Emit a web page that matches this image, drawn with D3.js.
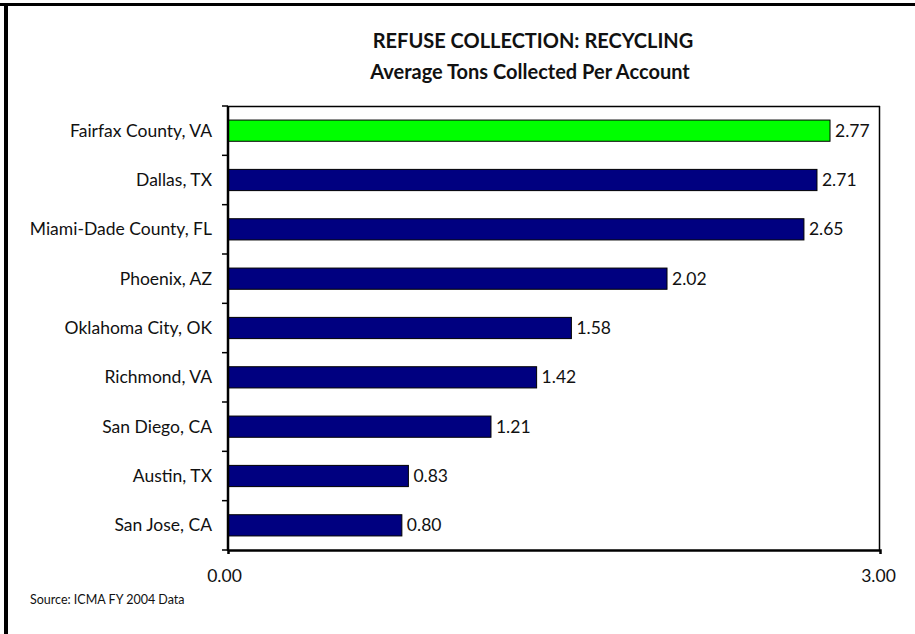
<!DOCTYPE html>
<html>
<head>
<meta charset="utf-8">
<script src="https://cdn.jsdelivr.net/npm/d3@7"></script>
<style>
    body { margin: 0; background: #fff; }
    text { font-family: Lato, "Open Sans", sans-serif; fill: #111; }
</style>
</head>
<body>
<div id="chart"></div>
<script>
// data
var cities = ["Fairfax County, VA", "Dallas, TX", "Miami-Dade County, FL", "Phoenix, AZ",
    "Oklahoma City, OK", "Richmond, VA", "San Diego, CA", "Austin, TX", "San Jose, CA"];
var tons = [2.77, 2.71, 2.65, 2.02, 1.58, 1.42, 1.21, 0.83, 0.80];
var xTicks = [0, 3];

function drawChart() {
    var width = 915,
        height = 634;

    var plotLeft = 228, plotRight = 880, plotTop = 106, plotBottom = 550;

    var svg = d3.select("#chart")
        .append("svg")
        .attr("width", width)
        .attr("height", height);

    // frame (only top and left edges show)
    svg.append("rect").attr("x", 0).attr("y", 3).attr("width", width).attr("height", 3).attr("fill", "#000");
    svg.append("rect").attr("x", 4).attr("y", 3).attr("width", 4).attr("height", height).attr("fill", "#000");

    var x = d3.scaleLinear().domain([0, 3]).range([plotLeft, plotRight]);
    var y = d3.scaleBand().domain(cities).range([plotTop, plotBottom]).paddingInner(0.57).paddingOuter(0.285);

    // title
    svg.append("text").attr("x", 533).attr("y", 48).attr("text-anchor", "middle")
        .style("font-size", "20px").style("font-weight", "bold").text("REFUSE COLLECTION: RECYCLING");
    svg.append("text").attr("x", 530).attr("y", 79).attr("text-anchor", "middle")
        .style("font-size", "20px").style("font-weight", "bold").text("Average Tons Collected Per Account");

    // plot area frame top/right
    svg.append("line").attr("x1", plotLeft).attr("x2", plotRight).attr("y1", plotTop + 0.5).attr("y2", plotTop + 0.5)
        .attr("stroke", "#000").attr("stroke-width", 1.5);
    svg.append("line").attr("x1", plotRight - 0.5).attr("x2", plotRight - 0.5).attr("y1", plotTop).attr("y2", plotBottom)
        .attr("stroke", "#000").attr("stroke-width", 1.5);

    // bars
    svg.selectAll("rect.bar")
        .data(tons)
        .enter().append("rect")
        .attr("class", "bar")
        .attr("x", x(0))
        .attr("y", function (d, i) { return y(cities[i]); })
        .attr("width", function (d) { return x(d) - x(0); })
        .attr("height", y.bandwidth())
        .attr("fill", function (d, i) { return i === 0 ? "#00ff00" : "#000080"; })
        .attr("stroke", "#000")
        .attr("stroke-width", 1);

    // value labels
    svg.selectAll("text.val")
        .data(tons)
        .enter().append("text")
        .attr("class", "val")
        .attr("x", function (d) { return x(d) + 5; })
        .attr("y", function (d, i) { return y(cities[i]) + y.bandwidth() / 2; })
        .attr("dy", "0.35em")
        .style("font-size", "17.5px")
        .text(function (d) { return d.toFixed(2); });

    // y axis: ticks between categories
    var step = (plotBottom - plotTop) / cities.length;
    var yTickPos = d3.range(cities.length + 1).map(function (i) { return plotTop + i * step; });
    svg.selectAll("line.ytick")
        .data(yTickPos)
        .enter().append("line")
        .attr("x1", plotLeft - 6).attr("x2", plotLeft)
        .attr("y1", function (d) { return d; }).attr("y2", function (d) { return d; })
        .attr("stroke", "#000").attr("stroke-width", 1.5);

    svg.selectAll("text.cat")
        .data(cities)
        .enter().append("text")
        .attr("class", "cat")
        .attr("x", 212)
        .attr("y", function (d) { return y(d) + y.bandwidth() / 2; })
        .attr("dy", "0.35em")
        .attr("text-anchor", "end")
        .style("font-size", "17.5px")
        .text(function (d) { return d; });

    svg.append("line").attr("x1", plotLeft).attr("x2", plotLeft).attr("y1", plotTop).attr("y2", plotBottom + 1)
        .attr("stroke", "#000").attr("stroke-width", 2.5);

    // x axis
    var xAxis = svg.append("g")
        .attr("transform", "translate(0," + plotBottom + ")")
        .call(d3.axisBottom(x).tickValues(xTicks).tickSize(4).tickPadding(16).tickFormat(d3.format(".2f")));
    xAxis.select(".domain").attr("stroke-width", 2.5);
    xAxis.selectAll("text").style("font-size", "17.5px").style("font-family", "Lato, sans-serif")
        .attr("fill", "#111").attr("dx", function (d) { return d === 0 ? -4 : -2; });

    svg.append("text").attr("x", 30).attr("y", 604)
        .style("font-size", "12.5px").text("Source: ICMA FY 2004 Data");
}

drawChart();
</script>
</body>
</html>
